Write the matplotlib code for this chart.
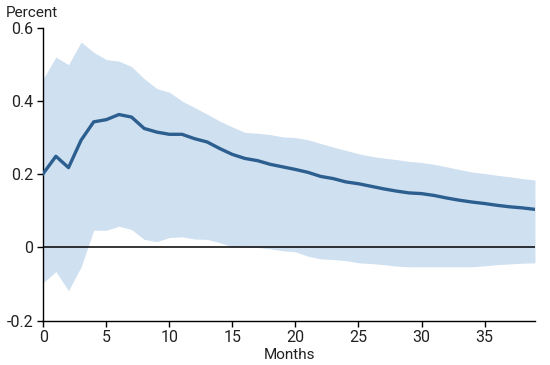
import matplotlib
matplotlib.use("Agg")
import matplotlib.pyplot as plt
import numpy as np

plt.rcParams['font.family'] = ['Roboto', 'DejaVu Sans']

months = list(range(40))
response = [0.202, 0.249, 0.218, 0.293, 0.343, 0.349, 0.363, 0.356, 0.325, 0.315,
            0.309, 0.309, 0.297, 0.288, 0.270, 0.254, 0.243, 0.237, 0.227, 0.220,
            0.213, 0.205, 0.194, 0.188, 0.179, 0.174, 0.167, 0.160, 0.154, 0.149,
            0.147, 0.142, 0.135, 0.129, 0.124, 0.120, 0.115, 0.111, 0.108, 0.104]
upper = [0.461, 0.520, 0.499, 0.561, 0.533, 0.513, 0.509, 0.494, 0.461, 0.434,
         0.424, 0.400, 0.382, 0.364, 0.345, 0.329, 0.314, 0.312, 0.308, 0.302,
         0.300, 0.294, 0.284, 0.274, 0.265, 0.256, 0.249, 0.244, 0.240, 0.235,
         0.232, 0.227, 0.220, 0.213, 0.206, 0.202, 0.197, 0.193, 0.188, 0.184]
lower = [-0.096, -0.066, -0.118, -0.053, 0.047, 0.047, 0.058, 0.049, 0.022, 0.016,
         0.027, 0.029, 0.023, 0.022, 0.013, 0.002, 0.000, 0.000, -0.004, -0.009,
         -0.012, -0.024, -0.031, -0.033, -0.036, -0.042, -0.044, -0.047, -0.051, -0.053,
         -0.053, -0.053, -0.053, -0.053, -0.053, -0.050, -0.047, -0.045, -0.043, -0.042]
xticks = [0, 5, 10, 15, 20, 25, 30, 35]
yticks = [-0.2, 0, 0.2, 0.4, 0.6]
ytick_labels = ["-0.2", "0", "0.2", "0.4", "0.6"]

fig = plt.figure(figsize=(5.5, 3.65), dpi=100)
ax = fig.add_axes([0.0787, 0.1214, 0.9727 - 0.0787, 0.924 - 0.1214])

ax.fill_between(months, lower, upper, color='#cfe0f0', linewidth=0, zorder=1)
ax.axhline(0, color='black', linewidth=1.1, zorder=2)
ax.plot(months, response, color='#2c5f8f', linewidth=2.4, zorder=3)

ax.set_xlim(0, 39)
ax.set_ylim(-0.2, 0.6)
ax.set_xticks(xticks)
ax.set_yticks(yticks)
ax.set_yticklabels(ytick_labels)
for s in ['top', 'right']:
    ax.spines[s].set_visible(False)
for s in ['left', 'bottom']:
    ax.spines[s].set_linewidth(1.0)
    ax.spines[s].set_color('black')
ax.tick_params(axis='both', length=4, width=1.0, labelsize=11.5, colors='black',
               labelcolor='#222222', pad=3)
ax.set_xlabel('Months', fontsize=11, color='#222222', labelpad=2)
fig.text(0.01, 1 - 17 / 365, 'Percent', fontsize=11, color='#222222',
         ha='left', va='baseline')

fig.savefig('out.png', dpi=100)
